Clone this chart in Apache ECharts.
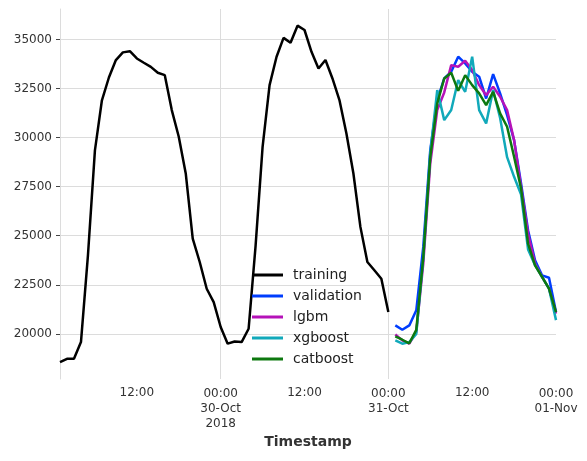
<!DOCTYPE html>
<html>
<head>
<meta charset="utf-8">
<script src="https://cdn.jsdelivr.net/npm/echarts@6/dist/echarts.min.js"></script>
<style>
  html, body { margin: 0; padding: 0; background: #fff; }
  #chart { width: 587px; height: 461px; }
</style>
</head>
<body>
<div id="chart"></div>
<script>
// hours counted from 29-Oct-2018 00:00
var trainHours = [];
for (var h = 1; h <= 48; h++) trainHours.push(h);
var predHours = [];
for (var h = 49; h <= 72; h++) predHours.push(h);

var training = [18560, 18730, 18730, 19580, 24000, 29350, 31900, 33060, 33950, 34340, 34400, 34030,
  33810, 33600, 33300, 33180, 31400, 30040, 28170, 24850, 23660, 22300, 21620, 20350,
  19500, 19610, 19580, 20260, 24500, 29530, 32670, 34120, 35080, 34830, 35700, 35480,
  34370, 33520, 33950, 33010, 31910, 30210, 28170, 25450, 23660, 23240, 22810, 21110];
var validation = [20430, 20210, 20430, 21200, 24430, 29360, 31910, 33010, 33350, 34120, 33780, 33350,
  33100, 31990, 33230, 32250, 31140, 29870, 27660, 25280, 23750, 22980, 22860, 21110];
var lgbm = [19970, 19670, 19500, 20100, 23580, 28680, 31400, 32300, 33690, 33610, 33910, 33440,
  32670, 32160, 32590, 32080, 31400, 29870, 27490, 25110, 23580, 22900, 22300, 21030];
var xgboost = [19670, 19500, 19580, 20000, 23900, 29200, 32420, 30890, 31400, 32930, 32330, 34120,
  31400, 30720, 32420, 31000, 29000, 28000, 27100, 24300, 23500, 22900, 22300, 20700];
var catboost = [19870, 19700, 19520, 20200, 23900, 29000, 31740, 33010, 33300, 32380, 33180, 32670,
  32250, 31650, 32330, 31230, 30550, 29020, 27400, 24600, 23490, 22900, 22300, 21110];

var xTicks = [12, 24, 36, 48, 60, 72];
var xTickLabels = ['12:00', '00:00\n30-Oct\n2018', '12:00', '00:00\n31-Oct', '12:00', '00:00\n01-Nov'];
var yTicks = [20000, 22500, 25000, 27500, 30000, 32500, 35000];
var dayLines = [24, 48];

function pairs(xs, ys) {
  return xs.map(function (x, i) { return [x, ys[i]]; });
}

var myChart = echarts.init(document.getElementById('chart'));

function lineSeries(name, color, xs, ys) {
  return {
    name: name,
    type: 'line',
    data: pairs(xs, ys),
    symbol: 'none',
    color: color,
    lineStyle: { color: color, width: 2.5 },
    animation: false
  };
}

var series = [
  lineSeries('training', '#000000', trainHours, training),
  lineSeries('validation', '#003DFD', predHours, validation),
  lineSeries('lgbm', '#b512b8', predHours, lgbm),
  lineSeries('xgboost', '#11a9ba', predHours, xgboost),
  lineSeries('catboost', '#0d780f', predHours, catboost)
];
// vertical grid lines at midnight
series[0].markLine = {
  silent: true,
  symbol: 'none',
  label: { show: false },
  lineStyle: { color: '#dcdcdc', width: 1, type: 'solid' },
  data: dayLines.map(function (v) { return { xAxis: v }; }),
  z: 0
};
series[0].z = 3;

var option = {
  backgroundColor: '#fff',
  animation: false,
  textStyle: { fontFamily: 'DejaVu Sans' },
  grid: { left: 60, right: 31, top: 9, bottom: 82 },
  legend: {
    orient: 'vertical',
    left: 247,
    top: 263,
    icon: 'rect',
    itemWidth: 31,
    itemHeight: 3,
    itemGap: 7,
    textStyle: { fontSize: 14, color: '#222', fontFamily: 'DejaVu Sans', padding: [0, 0, 0, 5] },
    data: ['training', 'validation', 'lgbm', 'xgboost', 'catboost']
  },
  xAxis: {
    type: 'value',
    min: 1,
    max: 72,
    name: 'Timestamp',
    nameLocation: 'middle',
    nameGap: 56,
    nameTextStyle: { fontSize: 14, fontWeight: 'bold', color: '#333', fontFamily: 'DejaVu Sans' },
    axisLine: { show: false },
    axisTick: { show: false },
    splitLine: { show: false },
    axisLabel: {
      customValues: xTicks,
      margin: 6,
      fontSize: 12,
      color: '#333',
      lineHeight: 15,
      formatter: function (v) {
        var i = xTicks.indexOf(v);
        var s = i >= 0 ? xTickLabels[i] : '';
        if (s.indexOf('\n') >= 0) return '{b|' + s.split('\n').join('}\n{b|') + '}';
        return s;
      },
      rich: { b: { fontSize: 12, color: '#333', lineHeight: 15, padding: [2, 0, 0, 0] } }
    }
  },
  yAxis: {
    type: 'value',
    min: 17700,
    max: 36550,
    axisLine: { show: true, lineStyle: { color: '#dcdcdc', width: 1 } },
    axisTick: { show: true, customValues: yTicks, length: 4, lineStyle: { color: '#444' } },
    splitLine: { show: true, lineStyle: { color: '#dcdcdc', width: 1 } },
    axisLabel: {
      customValues: yTicks, fontSize: 12, color: '#333', margin: 8,
      formatter: function (v) { return String(v); }
    }
  },
  series: series
};

myChart.setOption(option);
</script>
</body>
</html>
